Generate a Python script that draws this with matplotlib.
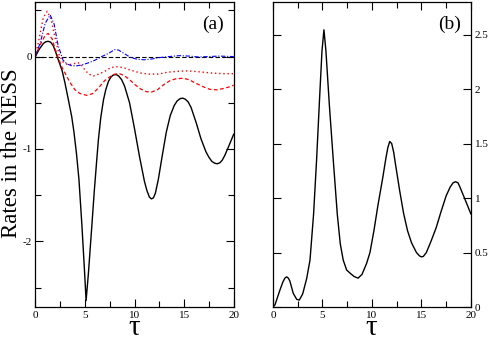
import matplotlib
matplotlib.use("Agg")
import matplotlib.pyplot as plt
from matplotlib.ticker import MultipleLocator

plt.rcParams['font.family'] = ['Liberation Serif', 'DejaVu Serif']
plt.rcParams['axes.unicode_minus'] = False

# panel (a): black solid curve
tau_black = [0.0, 0.4, 0.8, 1.05, 1.3, 1.55, 1.8, 2.05, 2.3, 2.7, 3.0, 3.3, 3.67, 3.9,
             4.15, 4.4, 4.7, 4.95, 5.12, 5.35, 5.7, 5.95, 6.2, 6.36, 6.6, 6.87, 7.1,
             7.37, 7.6, 7.85, 8.15, 8.4, 8.7, 9.0, 9.5, 10.0, 10.5, 11.0, 11.25, 11.5,
             11.7, 11.9, 12.1, 12.4, 12.8, 13.2, 13.6, 14.0, 14.3, 14.6, 14.85, 15.1,
             15.4, 15.7, 16.2, 16.7, 17.2, 17.5, 17.8, 18.1, 18.35, 18.6, 18.85, 19.1,
             19.5, 20.0]
rate_black = [0.0, 0.08, 0.14, 0.16, 0.165, 0.155, 0.12, 0.05, -0.03, -0.15, -0.29,
              -0.45, -0.65, -0.82, -1.05, -1.33, -1.83, -2.3, -2.64, -2.35, -1.83,
              -1.45, -1.11, -0.9, -0.66, -0.47, -0.36, -0.27, -0.225, -0.2, -0.195,
              -0.21, -0.25, -0.32, -0.5, -0.78, -1.08, -1.35, -1.45, -1.52, -1.54,
              -1.53, -1.48, -1.33, -1.07, -0.82, -0.64, -0.53, -0.48, -0.455, -0.45,
              -0.46, -0.49, -0.55, -0.71, -0.89, -1.03, -1.09, -1.135, -1.155, -1.16,
              -1.15, -1.12, -1.07, -0.97, -0.84]

# panel (a): red dashed curve
tau_rdash = [0.0, 0.5, 1.0, 1.3, 1.7, 2.0, 2.3, 2.7, 3.0, 3.5, 4.0, 4.5, 5.2, 5.8,
             6.36, 7.0, 7.5, 8.0, 8.5, 9.0, 9.4, 10.0, 10.6, 11.2, 11.7, 12.3, 13.0,
             13.6, 14.2, 14.9, 15.5, 16.2, 17.0, 17.6, 18.3, 19.0, 19.5, 20.0]
rate_rdash = [0.0, 0.13, 0.23, 0.25, 0.19, 0.08, -0.01, -0.12, -0.18, -0.28, -0.36,
              -0.4, -0.42, -0.4, -0.34, -0.26, -0.22, -0.19, -0.185, -0.21, -0.24,
              -0.3, -0.35, -0.38, -0.385, -0.36, -0.3, -0.26, -0.24, -0.235, -0.25,
              -0.29, -0.33, -0.355, -0.36, -0.345, -0.33, -0.31]

# panel (a): red dotted curve
tau_rdot = [0.0, 0.4, 0.8, 1.2, 1.6, 2.0, 2.4, 2.8, 3.3, 3.8, 4.3, 4.7, 5.0, 5.4,
            5.85, 6.4, 7.0, 7.6, 8.2, 8.9, 9.4, 10.0, 10.7, 11.5, 12.4, 13.3, 14.3,
            15.2, 16.0, 17.0, 18.0, 19.0, 20.0]
rate_rdot = [0.0, 0.2, 0.42, 0.49, 0.4, 0.2, 0.02, -0.06, -0.09, -0.08, -0.065, -0.1,
             -0.145, -0.19, -0.21, -0.19, -0.16, -0.12, -0.11, -0.12, -0.14, -0.16,
             -0.18, -0.19, -0.19, -0.17, -0.16, -0.155, -0.16, -0.17, -0.18, -0.185,
             -0.185]

# panel (a): blue dash-dot curve
tau_blue = [0.0, 0.5, 1.0, 1.5, 1.9, 2.3, 2.8, 3.2, 3.67, 4.2, 4.7, 5.3, 6.0, 6.7,
            7.4, 8.0, 8.4, 9.0, 9.6, 10.3, 11.0, 11.8, 12.6, 13.5, 14.5, 15.5, 16.5,
            17.5, 18.5, 20.0]
rate_blue = [0.0, 0.15, 0.36, 0.45, 0.35, 0.12, -0.04, -0.08, -0.1, -0.1, -0.09,
             -0.07, -0.04, 0.0, 0.035, 0.075, 0.07, 0.03, -0.01, -0.03, -0.035,
             -0.025, -0.01, 0.0, 0.01, 0.005, -0.005, 0.0, 0.005, 0.0]

# panel (b)
tau_b = [0.0, 0.2, 0.7, 1.0, 1.2, 1.38, 1.55, 1.7, 2.05, 2.4, 2.66, 3.0, 3.4, 3.74,
         4.1, 4.4, 4.7, 4.95, 5.15, 5.35, 5.7, 6.1, 6.5, 6.8, 7.1, 7.44, 7.8, 8.2,
         8.6, 9.0, 9.46, 9.8, 10.2, 10.6, 11.1, 11.4, 11.6, 11.8, 12.0, 12.2, 12.4,
         12.8, 13.2, 13.6, 14.0, 14.5, 14.8, 15.0, 15.2, 15.5, 16.0, 16.5, 17.0,
         17.5, 17.9, 18.2, 18.45, 18.7, 18.9, 19.4, 20.0]
rate_b = [0.0, 0.02, 0.155, 0.23, 0.265, 0.277, 0.265, 0.24, 0.125, 0.07, 0.064,
          0.12, 0.26, 0.43, 0.85, 1.34, 1.9, 2.35, 2.545, 2.35, 1.85, 1.34, 0.85,
          0.58, 0.43, 0.34, 0.31, 0.28, 0.265, 0.3, 0.4, 0.5, 0.7, 0.93, 1.19, 1.36,
          1.46, 1.52, 1.5, 1.42, 1.3, 1.07, 0.86, 0.7, 0.59, 0.5, 0.47, 0.46, 0.465,
          0.5, 0.61, 0.73, 0.88, 1.02, 1.1, 1.14, 1.15, 1.14, 1.1, 0.99, 0.855]

fig = plt.figure(figsize=(4.91, 3.38), dpi=100)
ax1 = fig.add_axes([0.0719, 0.0917, 0.4041, 0.9023])
ax2 = fig.add_axes([0.556, 0.0917, 0.403, 0.9023])

ax1.axhline(0, color='black', ls=(0, (4, 2)), lw=0.8)
ax1.plot(tau_black, rate_black, color='black', lw=1.0)
ax1.plot(tau_rdash, rate_rdash, color='red', ls=(0, (3, 2)), lw=0.9)
ax1.plot(tau_rdot, rate_rdot, color='red', ls=(0, (1, 2)), lw=1.0)
ax1.plot(tau_blue, rate_blue, color='blue', ls=(0, (4, 1.5, 1, 1.5)), lw=0.8)
ax1.set_xlim(0, 20)
ax1.set_ylim(-2.71, 0.59)
ax1.xaxis.set_major_locator(MultipleLocator(5))
ax1.xaxis.set_minor_locator(MultipleLocator(2.5))
ax1.yaxis.set_major_locator(MultipleLocator(1))
ax1.yaxis.set_minor_locator(MultipleLocator(0.5))
ax1.tick_params(which='both', direction='in', top=True, right=True, labelsize=8, pad=3)
ax1.tick_params(axis='y', pad=2.5)
ax1.tick_params(which='major', length=6, width=0.8)
ax1.tick_params(which='minor', length=4, width=0.8)
ax1.text(0.95, 0.955, '(a)', transform=ax1.transAxes, ha='right', va='top', fontsize=14)

ax2.plot(tau_b, rate_b, color='black', lw=1.0)
ax2.set_xlim(0, 20)
ax2.set_ylim(0, 2.8)
ax2.xaxis.set_major_locator(MultipleLocator(5))
ax2.xaxis.set_minor_locator(MultipleLocator(2.5))
ax2.yaxis.set_major_locator(MultipleLocator(0.5))
ax2.yaxis.set_major_formatter(plt.FuncFormatter(lambda v, p: '%g' % v))
ax2.tick_params(which='both', direction='in', top=True, right=True, left=True,
                labelleft=False, labelright=True, labelsize=8, pad=3)
ax2.tick_params(which='major', length=6, width=0.8)
ax2.tick_params(which='minor', length=4, width=0.8)
ax2.text(0.95, 0.955, '(b)', transform=ax2.transAxes, ha='right', va='top', fontsize=14)

# axis labels placed by hand, as in the original figure
fig.text(12 / 491, 1 - 153 / 338, 'Rates in the NESS', rotation=90,
         ha='center', va='center', fontsize=16.5)
fig.text(134 / 491, 0.01, 'τ', ha='center', va='baseline', fontsize=21)
fig.text(371 / 491, 0.01, 'τ', ha='center', va='baseline', fontsize=21)

for ax in (ax1, ax2):
    for s in ax.spines.values():
        s.set_linewidth(0.9)

fig.savefig('out.png', dpi=100)
